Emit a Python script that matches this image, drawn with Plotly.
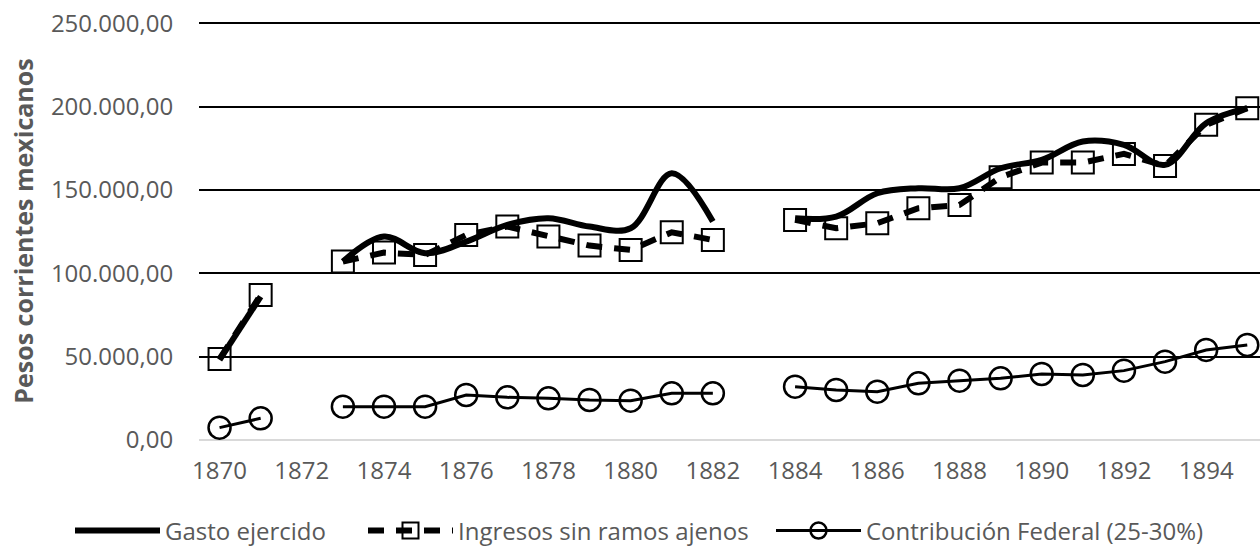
import plotly.graph_objects as go

# Years shown on the category axis (1872 and 1883 have no data)
years = list(range(1870, 1896))

gasto_ejercido = [48000, 86000, None, 107000, 122000, 112000, 119000, 129000, 133000,
                  128000, 127000, 160000, 131000, None, 133000, 134000, 148000, 151000,
                  151000, 163000, 168000, 179000, 177000, 165000, 190000, 199000]

ingresos_sin_ramos = [48600, 87000, None, 107000, 112400, 111000, 123000, 128000, 122000,
                      116600, 114000, 124600, 120000, None, 132000, 127000, 130000, 139000,
                      141000, 157600, 166400, 166400, 171600, 164400, 189000, 199000]

contribucion_federal = [7400, 13000, None, 20000, 20000, 20000, 27000, 25600, 25000,
                        24000, 23600, 28000, 28000, None, 32000, 30000, 29000, 34000,
                        35600, 37000, 39600, 39000, 41600, 47000, 54000, 57000]

tick_years = list(range(1870, 1895, 2))
y_ticks = [0, 50000, 100000, 150000, 200000, 250000]

FONT = "Open Sans"
GREY = "#595959"
SIZE = 24
W, H = 1260, 546

fig = go.Figure()

fig.add_trace(go.Scatter(
    x=years, y=gasto_ejercido, name="Gasto ejercido", mode="lines",
    line=dict(color="black", width=6, shape="spline", smoothing=1.0),
    connectgaps=False, legend="legend",
))

fig.add_trace(go.Scatter(
    x=years, y=ingresos_sin_ramos, name="Ingresos sin ramos ajenos", mode="lines+markers",
    line=dict(color="black", width=6, dash="16px,12px"),
    marker=dict(symbol="square-open", size=22, color="black",
                line=dict(color="black", width=2)),
    connectgaps=False, legend="legend2",
))

fig.add_trace(go.Scatter(
    x=years, y=contribucion_federal, name="Contribución Federal (25-30%)", mode="lines+markers",
    line=dict(color="black", width=3),
    marker=dict(symbol="circle-open", size=22, color="black",
                line=dict(color="black", width=2.5)),
    connectgaps=False, legend="legend3",
))


def legend_box(left_px):
    return dict(orientation="h", x=left_px / W, xref="container", xanchor="left",
                y=(H - 531) / H, yref="container", yanchor="middle",
                font=dict(family=FONT, size=SIZE, color=GREY),
                itemwidth=85, bgcolor="rgba(0,0,0,0)")


fig.update_layout(
    width=W, height=H,
    margin=dict(l=199, r=0, t=22, b=106),
    paper_bgcolor="white", plot_bgcolor="white",
    separators=",.",
    font=dict(family=FONT, size=SIZE, color=GREY),
    showlegend=True,
    legend=legend_box(70),
    legend2=legend_box(363),
    legend3=legend_box(771),
)

fig.update_xaxes(
    range=[1869.5, 1895.31],
    tickmode="array", tickvals=tick_years, ticktext=[str(y) for y in tick_years],
    showgrid=False, zeroline=False, showline=False,
    ticks="outside", ticklen=9, tickcolor="rgba(0,0,0,0)",
    tickfont=dict(family=FONT, size=SIZE, color=GREY),
)

fig.update_yaxes(
    range=[0, 250700],
    tickmode="array", tickvals=y_ticks, tickformat=",.2f",
    showgrid=True, gridcolor="black", gridwidth=2,
    zeroline=True, zerolinecolor="#d9d9d9", zerolinewidth=2,
    showline=False,
    ticks="outside", ticklen=20, tickcolor="rgba(0,0,0,0)",
    tickfont=dict(family=FONT, size=SIZE, color=GREY),
    title=dict(text="<b>Pesos corrientes mexicanos</b>", standoff=10,
               font=dict(family=FONT, size=25, color=GREY)),
)

fig.write_html("out.html")
